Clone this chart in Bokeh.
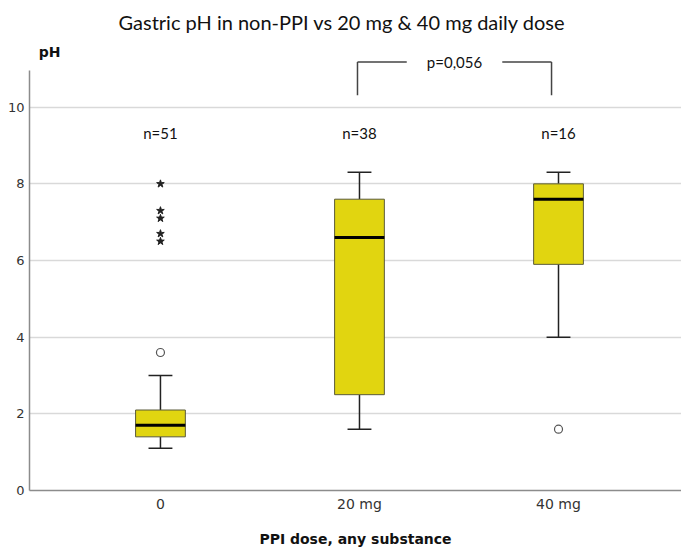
from bokeh.plotting import figure
from bokeh.models import FixedTicker, Label, ColumnDataSource
from bokeh.core.properties import value
from bokeh.embed import file_html
from bokeh.resources import INLINE

# ---- data ----
groups = ["0", "20 mg", "40 mg"]
group_x = [0, 1, 2]
whisker_low = [1.1, 1.6, 4.0]
q1 = [1.4, 2.5, 5.9]
median = [1.7, 6.6, 7.6]
q3 = [2.1, 7.6, 8.0]
whisker_high = [3.0, 8.3, 8.3]
n_labels = ["n=51", "n=38", "n=16"]
outlier_x = [0, 2]
outlier_y = [3.6, 1.6]
extreme_x = [0, 0, 0, 0, 0]
extreme_y = [8.0, 7.3, 7.1, 6.7, 6.5]
p_text = "p=0,056"
bracket_x = [0.99, 1.965]
bracket_y_low = 10.31
bracket_y_high = 11.18
y_ticks = [0, 2, 4, 6, 8, 10]

FILL = "#E1D510"
box_w = 0.25
cap_w = 0.12

p = figure(width=681, height=549, output_backend="svg", toolbar_location=None,
           x_range=(-0.658, 2.618), y_range=(0, 11.74),
           min_border_left=29, min_border_right=0, min_border_top=40, min_border_bottom=55)
p.outline_line_color = None
p.background_fill_color = "white"
p.border_fill_color = "white"

# title
p.title.text = "Gastric pH in non-PPI vs 20 mg & 40 mg daily dose"
p.title.align = "left"
p.title.offset = 89
p.title.text_font = "Lato"
p.title.text_font_size = "20px"
p.title.text_font_style = "normal"
p.title.text_color = "#111111"
p.title.standoff = 13

# grid
p.xgrid.grid_line_color = None
p.ygrid.ticker = FixedTicker(ticks=y_ticks[1:])
p.ygrid.grid_line_color = "#D9D9D9"
p.ygrid.grid_line_width = 1.5

# axes
p.yaxis.ticker = FixedTicker(ticks=y_ticks)
p.yaxis.bounds = (0, 10.96)
p.yaxis.axis_line_color = "#8C8C8C"
p.yaxis.axis_line_width = 1.5
p.yaxis.major_tick_out = 0
p.yaxis.major_tick_in = 0
p.yaxis.minor_tick_line_color = None
p.yaxis.major_label_text_font = "DejaVu Sans"
p.yaxis.major_label_text_font_size = "13px"
p.yaxis.major_label_text_color = "#333333"
p.yaxis.major_label_standoff = 5

p.xaxis.ticker = FixedTicker(ticks=group_x)
p.xaxis.major_label_overrides = {x: g for x, g in zip(group_x, groups)}
p.xaxis.axis_line_color = "#8C8C8C"
p.xaxis.axis_line_width = 1.5
p.xaxis.major_tick_out = 0
p.xaxis.major_tick_in = 0
p.xaxis.minor_tick_line_color = None
p.xaxis.major_label_text_font = "DejaVu Sans"
p.xaxis.major_label_text_font_size = "14px"
p.xaxis.major_label_text_color = "#333333"
p.xaxis.major_label_standoff = 5
p.xaxis.axis_label = "PPI dose, any substance"
p.xaxis.axis_label_text_font = "DejaVu Sans"
p.xaxis.axis_label_text_font_size = "14px"
p.xaxis.axis_label_text_font_style = "bold"
p.xaxis.axis_label_text_color = "#111111"
p.xaxis.axis_label_standoff = 16

src = ColumnDataSource(dict(x=group_x, lo=whisker_low, q1=q1, med=median, q3=q3, hi=whisker_high,
                            xl=[x - box_w / 2 for x in group_x], xr=[x + box_w / 2 for x in group_x],
                            cl=[x - cap_w / 2 for x in group_x], cr=[x + cap_w / 2 for x in group_x]))

# whiskers
p.segment(x0="x", y0="q3", x1="x", y1="hi", source=src, line_color="#222222", line_width=1.5)
p.segment(x0="x", y0="q1", x1="x", y1="lo", source=src, line_color="#222222", line_width=1.5)
p.segment(x0="cl", y0="hi", x1="cr", y1="hi", source=src, line_color="#222222", line_width=1.5)
p.segment(x0="cl", y0="lo", x1="cr", y1="lo", source=src, line_color="#222222", line_width=1.5)
# boxes
p.vbar(x="x", width=box_w, bottom="q1", top="q3", source=src, fill_color=FILL,
       line_color="#5a5a3a", line_width=1)
p.segment(x0="xl", y0="med", x1="xr", y1="med", source=src, line_color="black", line_width=3)

# outliers
p.scatter(outlier_x, outlier_y, marker="circle", size=8, fill_color="white",
          line_color="#555555", line_width=1.2)
p.scatter(extreme_x, extreme_y, marker="star", size=8, fill_color="#222222",
          line_color="#222222")

# n labels
p.text(x=group_x, y=[9.32] * 3, text=n_labels, text_align="center", text_baseline="middle",
       text_font=value("Lato"), text_font_size="15px", text_color="#111111")

# bracket
mid = (bracket_x[0] + bracket_x[1]) / 2
gap = 0.24
p.segment(x0=[bracket_x[0], bracket_x[1], bracket_x[0], mid + gap],
          y0=[bracket_y_low, bracket_y_low, bracket_y_high, bracket_y_high],
          x1=[bracket_x[0], bracket_x[1], mid - gap, bracket_x[1]],
          y1=[bracket_y_high, bracket_y_high, bracket_y_high, bracket_y_high],
          line_color="#444444", line_width=1.5)
p.text(x=[mid], y=[bracket_y_high], text=[p_text], text_align="center", text_baseline="middle",
       text_font=value("Lato"), text_font_size="15px", text_color="#111111")

# pH label
p.add_layout(Label(x=20, y=11.43, x_units="screen", y_units="data", text="pH",
                   text_align="center", text_baseline="middle", text_font="DejaVu Sans",
                   text_font_size="14px", text_font_style="bold", text_color="#111111"))

open("out.html", "w").write(file_html(p, INLINE))
